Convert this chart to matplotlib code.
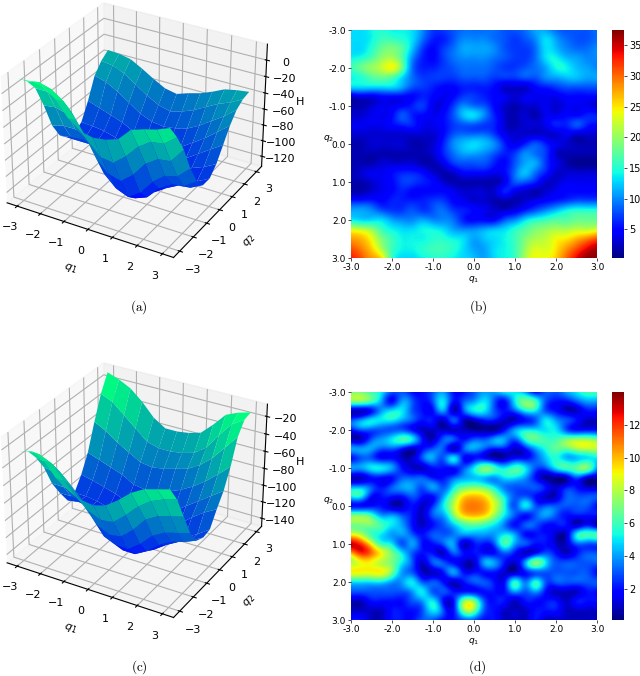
import numpy as np
import matplotlib
matplotlib.use('Agg')
import matplotlib.pyplot as plt

# surface grids, rows are q2 = -3..3, columns are q1 = -3..3
surface_q = [-3, -2.5, -2, -1.5, -1, -0.5, 0, 0.5, 1, 1.5, 2, 2.5, 3]

surface_a = [
    [15, 16, 14, 3, -15, -26, -29, -27, -22, -7, -2, 2, 8],
    [5, 8, 4, -6, -24, -46, -60, -62, -50, -34, -24, -22, -10],
    [-10, -10, -16, -26, -48, -74, -88, -92, -80, -62, -52, -50, -32],
    [-38, -36, -40, -50, -72, -100, -114, -120, -110, -92, -80, -76, -62],
    [-70, -66, -66, -74, -92, -116, -126, -130, -124, -108, -98, -96, -85],
    [-90, -88, -86, -92, -108, -122, -128, -130, -126, -116, -108, -106, -98],
    [-100, -100, -100, -104, -114, -124, -130, -130, -124, -116, -110, -106, -98],
    [-102, -102, -104, -108, -116, -124, -128, -128, -122, -112, -102, -96, -88],
    [-95, -96, -98, -102, -110, -118, -120, -118, -112, -102, -92, -82, -72],
    [-75, -80, -85, -90, -98, -104, -106, -104, -100, -90, -80, -68, -56],
    [-50, -54, -62, -72, -82, -88, -90, -88, -84, -76, -66, -56, -44],
    [-38, -40, -46, -56, -66, -74, -78, -74, -68, -60, -52, -46, -38],
    [-31, -32, -35, -43, -52, -60, -63, -58, -54, -48, -41, -38, -36],
]

surface_c = [
    [-24, -20, -26, -42, -52, -58, -60, -56, -46, -34, -26, -22, -18],
    [-30, -30, -36, -52, -66, -78, -84, -82, -70, -56, -46, -40, -36],
    [-44, -46, -52, -66, -84, -100, -108, -106, -94, -78, -70, -66, -62],
    [-62, -64, -70, -84, -104, -122, -128, -128, -118, -104, -96, -92, -88],
    [-88, -88, -90, -102, -122, -136, -142, -142, -134, -122, -114, -110, -104],
    [-106, -106, -108, -118, -132, -142, -146, -146, -140, -130, -122, -116, -108],
    [-122, -120, -122, -128, -136, -144, -147, -146, -140, -132, -124, -116, -106],
    [-120, -120, -122, -126, -132, -138, -140, -138, -130, -120, -108, -98, -90],
    [-105, -108, -112, -116, -122, -126, -126, -122, -116, -106, -96, -86, -76],
    [-85, -90, -95, -100, -108, -110, -108, -104, -98, -90, -80, -68, -55],
    [-55, -62, -72, -80, -88, -90, -88, -84, -80, -72, -60, -44, -28],
    [-28, -34, -46, -58, -70, -74, -74, -72, -68, -58, -40, -24, -15],
    [-9, -14, -21, -33, -48, -57, -57, -55, -51, -38, -23, -17, -13],
]

# heatmap grids, rows are q2 = -3..3, columns are q1 = -3..3, step 0.25
heat_b = [
    [13, 13, 14, 15, 14, 14, 13, 10, 7, 7, 8, 9, 9, 9, 9, 8, 8, 9, 11, 11, 9, 8, 8, 8, 9],
    [13, 13, 14, 16, 16, 15, 13, 9, 6, 6, 8, 10, 10, 10, 9, 8, 7, 8, 10, 13, 11, 9, 8, 8, 9],
    [13, 13, 15, 18, 19, 17, 12, 7, 5, 7, 9, 11, 11, 11, 10, 8, 7, 7, 9, 13, 12, 10, 9, 9, 10],
    [14, 15, 17, 20, 21, 17, 10, 6, 5, 7, 9, 10, 10, 10, 9, 8, 7, 7, 9, 13, 14, 12, 11, 10, 10],
    [16, 18, 20, 22, 24, 18, 9, 6, 6, 7, 8, 9, 9, 9, 8, 7, 7, 8, 9, 11, 14, 14, 12, 11, 10],
    [14, 15, 17, 18, 17, 13, 9, 7, 7, 7, 7, 8, 8, 8, 7, 7, 7, 8, 8, 10, 11, 12, 12, 11, 11],
    [13, 13, 13, 13, 13, 11, 8, 7, 6, 5, 5, 6, 6, 6, 5, 3, 3, 3, 5, 6, 7, 8, 8, 8, 8],
    [3, 4, 4, 5, 5, 5, 5, 6, 5, 4, 5, 7, 7, 6, 5, 4, 3, 4, 4, 4, 4, 5, 5, 5, 5],
    [2, 2, 3, 4, 4, 5, 6, 7, 4, 4, 7, 10, 9, 8, 5, 3, 2, 3, 3, 4, 3, 4, 4, 4, 3],
    [3, 3, 4, 4, 5, 8, 6, 5, 4, 5, 8, 12, 13, 10, 6, 3, 2, 3, 2, 4, 4, 5, 5, 6, 6],
    [4, 4, 4, 4, 5, 6, 6, 4, 4, 5, 7, 8, 8, 7, 6, 3, 2, 3, 3, 4, 6, 6, 8, 6, 5],
    [3, 3, 3, 3, 3, 3, 3, 3, 3, 5, 8, 9, 9, 9, 7, 4, 3, 3, 3, 3, 3, 4, 3, 3, 3],
    [2, 2, 3, 3, 3, 3, 2, 2, 3, 6, 10, 12, 13, 12, 10, 6, 4, 6, 8, 6, 4, 3, 2, 2, 2],
    [2, 2, 2, 2, 2, 2, 2, 2, 3, 6, 9, 11, 11, 10, 8, 6, 7, 10, 9, 7, 3, 2, 2, 2, 2],
    [2, 2, 2, 3, 3, 3, 3, 2, 2, 4, 7, 8, 8, 8, 6, 5, 8, 11, 11, 7, 4, 2, 1, 1, 1],
    [2, 3, 4, 4, 5, 6, 6, 5, 3, 2, 3, 5, 5, 5, 4, 5, 9, 12, 9, 6, 3, 3, 3, 3, 3],
    [2, 2, 3, 4, 5, 7, 7, 6, 5, 3, 2, 2, 2, 2, 2, 4, 8, 8, 6, 3, 3, 4, 4, 4, 4],
    [2, 2, 3, 4, 5, 6, 5, 5, 5, 5, 4, 3, 3, 3, 3, 6, 4, 3, 2, 3, 4, 5, 5, 5, 5],
    [6, 6, 6, 5, 6, 6, 6, 6, 7, 7, 5, 4, 3, 3, 2, 2, 2, 3, 4, 5, 6, 7, 8, 8, 8],
    [11, 11, 10, 8, 7, 7, 8, 7, 8, 9, 7, 6, 5, 4, 3, 3, 4, 6, 8, 10, 12, 14, 15, 15, 15],
    [14, 13, 13, 13, 11, 10, 10, 11, 10, 10, 9, 6, 5, 5, 5, 8, 10, 13, 15, 16, 17, 17, 18, 18, 18],
    [23, 22, 20, 16, 14, 13, 13, 14, 14, 13, 11, 10, 10, 11, 12, 13, 15, 17, 19, 20, 21, 21, 22, 22, 23],
    [28, 27, 24, 19, 16, 14, 14, 14, 15, 15, 14, 13, 11, 12, 13, 14, 16, 19, 21, 22, 24, 25, 27, 29, 31],
    [31, 29, 26, 21, 16, 14, 14, 15, 16, 16, 15, 13, 11, 11, 13, 14, 16, 20, 23, 23, 25, 28, 31, 34, 36],
    [33, 31, 28, 25, 16, 13, 13, 14, 15, 15, 14, 13, 12, 11, 13, 14, 16, 21, 24, 24, 26, 30, 34, 37, 37],
]

heat_d = [
    [7, 7, 6, 5, 3, 3, 2, 2, 3, 4, 2, 2, 3, 4, 4, 5, 5, 4, 2, 3, 3, 4, 5, 6, 6],
    [7, 7, 6, 4, 2, 4, 3, 2, 3, 5, 2, 3, 4, 5, 3, 2, 5, 7, 6, 3, 2, 2, 3, 4, 4],
    [1, 1, 2, 4, 5, 5, 3, 2, 2, 4, 1, 3, 5, 5, 3, 2, 3, 5, 5, 3, 2, 1, 1, 2, 2],
    [3, 4, 5, 5, 5, 4, 3, 2, 2, 1, 3, 1, 1, 2, 2, 1, 1, 2, 3, 5, 4, 3, 2, 1, 1],
    [2, 3, 3, 3, 3, 3, 2, 1, 1, 1, 1, 1, 0.5, 0.5, 0.5, 2, 4, 5, 5, 5, 5, 3, 2, 2, 2],
    [1, 1, 3, 4, 5, 6, 5, 2, 1, 3, 3, 2, 3, 3, 4, 4, 3, 5.5, 6.5, 6, 6, 7, 7.5, 7.5, 7],
    [4, 4, 4, 3, 3, 2, 1, 2, 3, 3, 1, 3, 4, 3, 2, 2, 1, 2, 4, 5.5, 6.5, 6.5, 7.5, 8, 8],
    [2, 3, 3, 2, 2, 1, 1, 3, 4, 3, 5, 2, 2, 2, 1, 1, 2, 2, 3, 4.5, 5.5, 4.5, 4.5, 5, 5],
    [4, 4, 5, 5, 4, 2, 1, 1, 2, 2, 2, 3, 5, 7, 6, 5, 6, 5, 3, 3, 5, 6, 6.5, 7, 4],
    [1, 1, 2, 2, 2, 3, 3, 3, 2, 2, 3, 4, 4.5, 4.5, 4, 5, 5, 4, 2, 0.5, 0.5, 1, 3, 1.5, 1],
    [4, 4, 3, 2, 3, 4, 4, 3, 4, 3, 5, 6.5, 7, 6.5, 5, 3.5, 3, 3, 3, 2, 1, 2, 2, 1, 1],
    [5, 5, 2, 2, 2, 2, 3, 2, 2, 4, 7, 9.5, 10, 9.5, 7.5, 5, 3, 3, 2, 1, 1, 3, 3, 3, 3],
    [2, 2, 2, 2, 1, 1, 2, 1, 2.5, 5, 8, 10.5, 11, 10.5, 8.5, 5.5, 3, 5, 3, 3, 3, 3, 3, 3, 2],
    [7, 7, 6, 4, 4, 3, 2, 1, 3, 4, 7, 9.5, 10, 9.5, 7.5, 5, 3, 2, 3, 4, 3, 2, 2, 2, 2],
    [7, 7, 7, 6, 5, 4, 2, 1, 2, 3, 4.5, 6, 6.5, 6, 5, 3.5, 2, 3, 3, 2, 2, 2, 1, 2, 1],
    [9, 8, 6, 5, 4, 4, 3, 2, 3, 3, 3.5, 4, 4, 4, 4, 5, 4, 2, 2, 2, 1, 1, 5, 6, 6],
    [13, 12, 9, 6, 5, 3, 4, 2, 2, 3, 4, 1, 2, 2, 3, 6, 4, 3, 2, 2, 1, 1, 3, 3, 3],
    [10, 12, 11, 9, 7, 5, 3, 2, 2, 1, 3, 2, 2, 2, 2, 3, 2, 1, 2, 3, 2, 1, 2, 3, 3],
    [8, 9, 9, 8, 7, 5, 3, 1, 3, 3, 2, 1, 1, 4, 4, 2, 1, 4, 7, 5, 3, 3, 3, 3, 3],
    [9, 9, 9, 9, 7, 4, 3, 1, 1, 2, 4, 2, 2, 2, 2, 1, 1, 2, 3, 3, 3, 3, 3, 3, 2],
    [5, 5, 5, 5, 4, 4, 5, 3, 3, 2, 1, 2, 3, 3, 2, 2, 5.5, 3.5, 5.5, 3, 3, 3, 3, 3, 3],
    [3, 3, 3, 3, 3, 3, 4, 5, 3, 3, 2, 2, 2, 2, 2, 2, 4, 3, 4, 2, 1, 1, 1, 2, 2],
    [1, 1, 2, 2, 2, 2, 3, 4, 5, 2, 2, 7, 7, 3, 2, 2, 1, 2, 2, 2, 2, 1, 2, 2, 2],
    [1, 1, 1, 1, 2, 2, 2, 3, 5, 3, 2, 7, 7, 3, 2, 1, 1, 1, 2, 2, 2, 1, 1, 1, 1],
    [2, 2, 1, 1, 2, 2, 2, 3, 3, 2, 2, 3, 3, 2, 2, 1, 1, 1, 2, 1, 1, 1, 1, 1, 1],
]

q_ticks = [-3, -2, -1, 0, 1, 2, 3]
q_ticklabels = ['-3.0', '-2.0', '-1.0', '0.0', '1.0', '2.0', '3.0']
cbar_ticks_b = [5, 10, 15, 20, 25, 30, 35]
cbar_ticks_d = [2, 4, 6, 8, 10, 12]
z_ticks_a = [-120, -100, -80, -60, -40, -20, 0]
z_ticks_c = [-140, -120, -100, -80, -60, -40, -20]

W, H = 640, 676


def px_rect(x0, y0, x1, y1):
    """Figure rectangle from pixel corners, y measured from the top."""
    return [x0 / W, 1 - y1 / H, (x1 - x0) / W, (y1 - y0) / H]


def draw_surface(fig, rect, values, z_ticks):
    ax = fig.add_axes(rect, projection='3d')
    ax.patch.set_alpha(0)
    q1, q2 = np.meshgrid(surface_q, surface_q)
    ax.plot_surface(q1, q2, np.array(values, dtype=float), cmap='winter',
                    rstride=1, cstride=1, linewidth=0)
    ax.set_box_aspect((1, 1, 0.75), zoom=1.05)
    ax.set_xticks(q_ticks)
    ax.set_yticks(q_ticks)
    ax.set_zticks(z_ticks)
    ax.tick_params(labelsize=8, pad=0)
    ax.set_xlabel('$q_1$', fontsize=8, labelpad=-2)
    ax.set_ylabel('$q_2$', fontsize=8, labelpad=-2)
    ax.zaxis.set_rotate_label(False)
    ax.set_zlabel('H', fontsize=8, labelpad=-6)
    return ax


def draw_heat(fig, rect, cbar_rect, values, vmin, vmax, cbar_ticks):
    ax = fig.add_axes(rect)
    im = ax.imshow(values, cmap='jet', vmin=vmin, vmax=vmax, interpolation='lanczos',
                   extent=(-3.125, 3.125, 3.125, -3.125), aspect='auto')
    ax.set_xlim(-3, 3)
    ax.set_ylim(3, -3)
    ax.set_xticks(q_ticks)
    ax.set_xticklabels(q_ticklabels)
    ax.set_yticks(q_ticks)
    ax.set_yticklabels(q_ticklabels)
    ax.tick_params(labelsize=6.5, length=2, width=0.5, pad=1.5)
    for spine in ax.spines.values():
        spine.set_visible(False)
    ax.set_xlabel('$q_1$', fontsize=6.5, labelpad=1.5)
    ax.set_ylabel('$q_2$', fontsize=6.5, rotation=0, labelpad=0)
    cax = fig.add_axes(cbar_rect)
    cbar = fig.colorbar(im, cax=cax, ticks=cbar_ticks)
    cbar.outline.set_visible(False)
    cbar.ax.tick_params(labelsize=7, length=2, width=0.5, pad=1.5)


fig = plt.figure(figsize=(W / 100, H / 100), dpi=100)

draw_surface(fig, px_rect(-8, -13.4, 274, 268.6), surface_a, z_ticks_a)
draw_heat(fig, px_rect(351, 30, 597, 258), px_rect(612, 30, 624, 258),
          heat_b, 0.3, 37.5, cbar_ticks_b)
draw_surface(fig, px_rect(-8, 346.6, 274, 628.6), surface_c, z_ticks_c)
draw_heat(fig, px_rect(351, 392, 597, 620), px_rect(612, 392, 624, 620),
          heat_d, 0.1, 14, cbar_ticks_d)

for label, x, y in [('(a)', 139, 307), ('(b)', 478, 307), ('(c)', 139, 667), ('(d)', 477, 667)]:
    fig.text(x / W, 1 - y / H, r'$\mathrm{%s}$' % label, math_fontfamily='cm', fontsize=9.5,
             ha='center', va='center')

fig.savefig('out.png', dpi=100)
